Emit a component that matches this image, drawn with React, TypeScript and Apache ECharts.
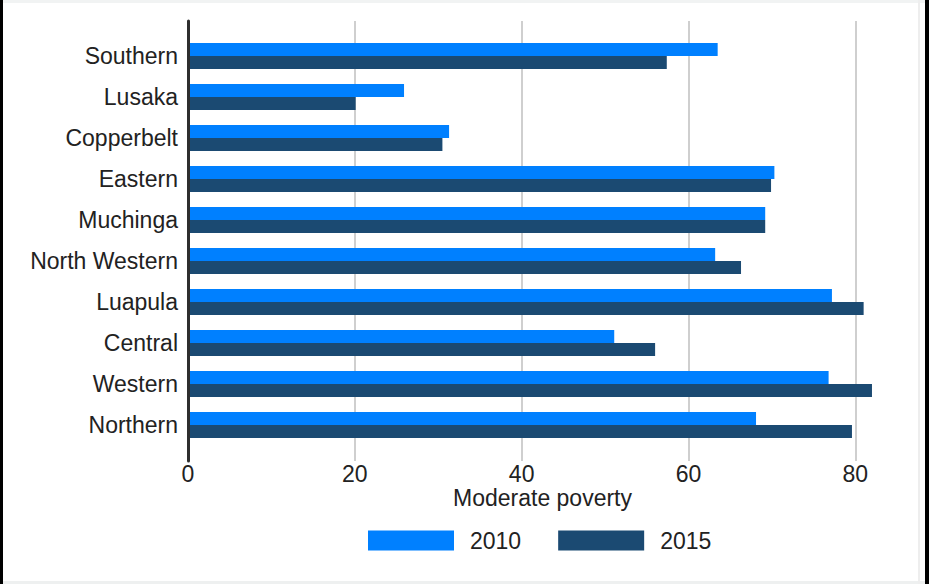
import React, { useEffect, useRef } from "react";
import * as echarts from "echarts";

const categories = [
  "Southern",
  "Lusaka",
  "Copperbelt",
  "Eastern",
  "Muchinga",
  "North Western",
  "Luapula",
  "Central",
  "Western",
  "Northern",
];
const values2010 = [63.5, 25.9, 31.3, 70.3, 69.2, 63.2, 77.2, 51.1, 76.8, 68.1];
const values2015 = [57.4, 20.1, 30.5, 69.9, 69.2, 66.3, 81.0, 56.0, 82.0, 79.6];
const xTickInterval = 20;
const xMax = 85;
const xAxisName = "Moderate poverty";
const seriesNames = ["2010", "2015"];

const FONT = "'Liberation Sans', Arial, Helvetica, sans-serif";
const TEXT = "#222222";
const FS = 23;

export default function App() {
  const ref = useRef<HTMLDivElement>(null);
  useEffect(() => {
    if (!ref.current) return;
    const chart = echarts.init(ref.current, null, { renderer: "svg" });
    chart.setOption({
      animation: false,
      backgroundColor: "#ffffff",
      textStyle: { fontFamily: FONT },
      grid: [
        { left: 188, top: 35.5, height: 410, width: 709, containLabel: false },
        { left: 188, top: 21, height: 440, width: 709, containLabel: false },
      ],
      legend: {
        left: 363,
        top: 524,
        itemWidth: 86,
        itemHeight: 20,
        itemGap: 37,
        icon: "rect",
        data: seriesNames,
        textStyle: { fontSize: FS, color: TEXT, fontFamily: FONT, padding: [0, 0, 0, 11] },
      },
      xAxis: [
        { type: "value", gridIndex: 0, min: 0, max: xMax, show: false },
        {
          type: "value",
          gridIndex: 1,
          min: 0,
          max: xMax,
          interval: xTickInterval,
          axisLine: { show: false },
          axisTick: { show: false },
          axisLabel: {
            fontSize: FS,
            lineHeight: 20,
            color: TEXT,
            margin: 3,
            showMaxLabel: false,
            fontFamily: FONT,
          },
          splitLine: {
            show: true,
            showMinLine: false,
            showMaxLine: false,
            lineStyle: { color: "#cfcfcf", width: 2 },
          },
          name: xAxisName,
          nameLocation: "middle",
          nameGap: 27,
          nameMoveOverlap: false,
          nameTextStyle: { fontSize: FS, lineHeight: 20, color: TEXT, fontFamily: FONT },
        },
      ],
      yAxis: [
        {
          type: "category",
          gridIndex: 0,
          data: categories,
          inverse: true,
          axisLine: { show: false },
          axisTick: { show: false },
          axisLabel: { fontSize: FS, color: TEXT, margin: 10, fontFamily: FONT, padding: [4, 0, 0, 0] },
        },
        {
          type: "value",
          gridIndex: 1,
          min: 0,
          max: 1,
          z: 5,
          axisLine: { show: true, onZero: false, lineStyle: { color: "#2e2e2e", width: 3 } },
          axisTick: { show: false },
          axisLabel: { show: false },
          splitLine: { show: false },
        },
      ],
      series: [
        {
          name: seriesNames[0],
          type: "bar",
          xAxisIndex: 0,
          yAxisIndex: 0,
          data: values2010,
          barWidth: 13,
          barGap: "0%",
          itemStyle: { color: "#0080ff" },
        },
        {
          name: seriesNames[1],
          type: "bar",
          xAxisIndex: 0,
          yAxisIndex: 0,
          data: values2015,
          barWidth: 13,
          barGap: "0%",
          itemStyle: { color: "#1b4a72" },
        },
      ],
      graphic: [
        { type: "rect", shape: { x: 0, y: 0, width: 929, height: 3 }, style: { fill: "#f1f3f3" } },
        { type: "rect", shape: { x: 0, y: 581, width: 929, height: 3 }, style: { fill: "#eef0f0" } },
        { type: "rect", shape: { x: 918, y: 0, width: 2, height: 584 }, style: { fill: "#eeeeee" } },
        { type: "rect", shape: { x: 0, y: 0, width: 3, height: 584 }, style: { fill: "#000000" } },
        { type: "rect", shape: { x: 925, y: 0, width: 4, height: 584 }, style: { fill: "#000000" } },
      ],
    });
    return () => chart.dispose();
  }, []);
  return (
    <div
      ref={ref}
      style={{ position: "fixed", left: 0, top: 0, width: 929, height: 584 }}
    />
  );
}
